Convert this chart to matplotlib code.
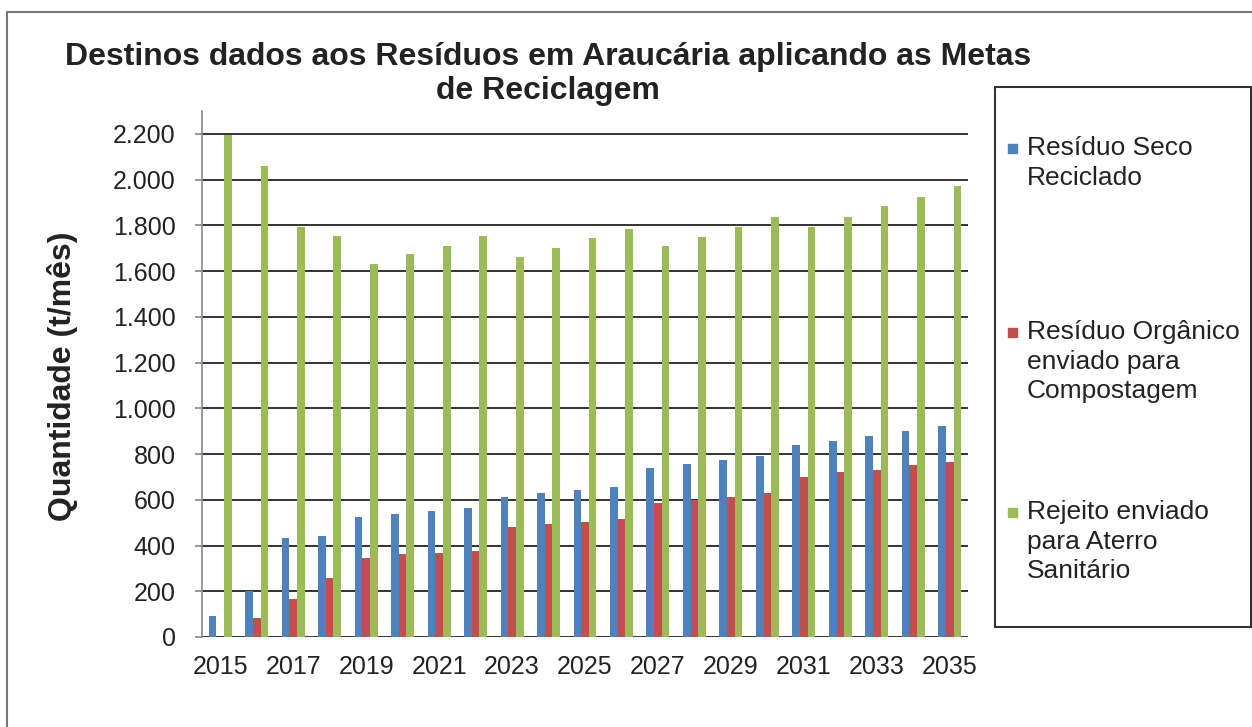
import matplotlib.pyplot as plt
from matplotlib.patches import Rectangle
import numpy as np

plt.rcParams['font.family'] = ['Liberation Sans', 'DejaVu Sans']

anos = list(range(2015, 2036))
seco = [90, 200, 434, 441, 524, 537, 552, 565, 613, 629, 644, 657,
        740, 755, 775, 790, 838, 858, 880, 901, 923]
organico = [0, 83, 164, 256, 347, 361, 368, 377, 480, 496, 502, 518,
            587, 601, 613, 628, 698, 720, 731, 752, 766]
rejeito = [2195, 2061, 1793, 1752, 1632, 1674, 1709, 1752, 1660, 1701, 1743,
           1785, 1708, 1750, 1793, 1835, 1793, 1835, 1883, 1924, 1974]
series_nomes = ['Resíduo Seco\nReciclado',
                'Resíduo Orgânico\nenviado para\nCompostagem',
                'Rejeito enviado\npara Aterro\nSanitário']
cores = ['#4F81BD', '#C0504D', '#9BBB59']
yticks = list(range(0, 2201, 200))
ytick_labels = ['0', '200', '400', '600', '800', '1.000', '1.200', '1.400',
                '1.600', '1.800', '2.000', '2.200']

W, H = 1252, 727
fig = plt.figure(figsize=(W / 100, H / 100), dpi=100)


def fx(x):
    return x / W


def fy(y):
    return 1 - y / H


ax = fig.add_axes([fx(202), fy(637), fx(968) - fx(202), fy(111) - fy(637)])

x = np.arange(len(anos))
w = 0.21
for i, (vals, cor) in enumerate(zip([seco, organico, rejeito], cores)):
    ax.bar(x + (i - 1) * w, vals, width=w, color=cor, zorder=3)

ax.set_xlim(-0.5, len(anos) - 0.5)
ax.set_ylim(0, 2300)
ax.set_yticks(yticks)
ax.set_yticklabels(ytick_labels, fontsize=18, color='#222222')
ax.set_xticks(x[::2])
ax.set_xticklabels([str(a) for a in anos[::2]], fontsize=18, color='#222222')
ax.tick_params(axis='x', length=0, pad=13)
ax.tick_params(axis='y', length=5, width=1.2, color='#888888', pad=14)
for yv in yticks:
    ax.axhline(yv, color='#333333', lw=1.4, zorder=1)
for s in ['top', 'right', 'bottom']:
    ax.spines[s].set_visible(False)
ax.spines['left'].set_color('#888888')
ax.spines['left'].set_linewidth(1.2)

fig.text(fx(63), fy(376), 'Quantidade (t/mês)', rotation=90, ha='center',
         va='center', fontsize=23, fontweight='bold', color='#222222')
fig.text(fx(548), fy(74), 'Destinos dados aos Resíduos em Araucária aplicando as Metas\nde Reciclagem',
         ha='center', va='center', fontsize=23, fontweight='bold',
         color='#222222', linespacing=1.2)

# outer chart frame
fig.patches.append(Rectangle((fx(7), fy(740)), 1.2, fy(12) - fy(740),
                             transform=fig.transFigure, fill=False,
                             edgecolor='#777777', lw=1.5))
# legend box
fig.patches.append(Rectangle((fx(995), fy(627)), fx(1251) - fx(995),
                             fy(87) - fy(627), transform=fig.transFigure,
                             fill=False, edgecolor='#333333', lw=1.5))
leg_y = [136, 320, 500]
for nome, cor, yy in zip(series_nomes, cores, leg_y):
    fig.patches.append(Rectangle((fx(1008), fy(yy + 17)), fx(9), 9 / H,
                                 transform=fig.transFigure, color=cor))
    fig.text(fx(1027), fy(yy), nome, ha='left', va='top', fontsize=19,
             color='#222222', linespacing=1.3)

plt.savefig('out.png', dpi=100)
